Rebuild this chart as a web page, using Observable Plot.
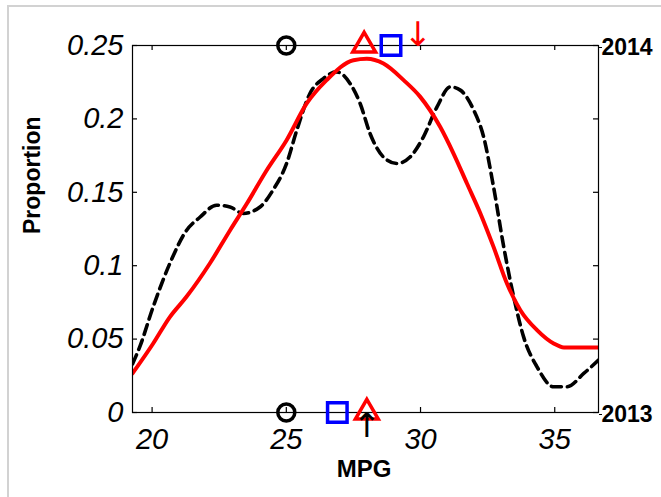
<!DOCTYPE html>
<html><head><meta charset="utf-8">
<script src="https://cdn.jsdelivr.net/npm/d3@7"></script>
<script src="https://cdn.jsdelivr.net/npm/@observablehq/plot@0.6"></script>
<style>
body{margin:0;background:#fff;}
#frame{position:absolute;left:7px;top:5px;width:700px;height:600px;border-left:2px solid #d2d2d2;border-top:2px solid #d2d2d2;}
#chart{position:absolute;left:0;top:0;}
</style></head><body><div id="frame"></div><div id="chart"></div>
<script>
// Dashed black density curve
const dashedMPG  = [19.27,19.54,20.04,20.66,21.28,21.78,22.4,22.9,23.4,24.02,24.5,25.01,25.39,25.88,26.38,26.88,27.38,27.75,28.12,28.62,29.12,29.61,30.11,30.61,31.11,31.48,31.98,32.35,32.72,33.1,33.47,33.84,34.34,34.96,35.46,36.08,36.63];
const dashedProp = [0.033,0.0447,0.072,0.1015,0.124,0.133,0.1412,0.140,0.1356,0.140,0.1514,0.1696,0.1923,0.2173,0.2275,0.232,0.224,0.2105,0.19,0.174,0.1696,0.174,0.1878,0.208,0.2218,0.2196,0.206,0.1878,0.1537,0.1128,0.0788,0.0515,0.0311,0.0175,0.0175,0.0266,0.0357];
// Solid red density curve
const solidMPG  = [19.27,20.04,20.66,21.28,22.15,22.9,23.52,24.27,25.01,25.76,26.5,27.5,28.0,28.62,29.37,29.99,30.73,31.23,31.73,32.23,32.72,33.22,33.72,34.34,34.96,35.34,36.63];
const solidProp = [0.0266,0.047,0.065,0.0788,0.1015,0.124,0.142,0.165,0.1855,0.2105,0.2264,0.24,0.241,0.2377,0.2264,0.215,0.1946,0.1764,0.156,0.1356,0.1128,0.0879,0.0697,0.0561,0.047,0.0443,0.0443];

const xTicks = [20,25,30,35];
const yTicks = [0,0.05,0.1,0.15,0.2,0.25];
const years = ["2013","2014"];
const yearLevel = [0,0.25];

// Summary markers per year
const circleMPG   = [25, 25];
const squareMPG   = [26.9, 28.9];
const triangleMPG = [28.0, 27.9];
const arrowMPG    = [28.0, 29.9];
const arrowColor  = ["black","red"];

const dashed = dashedMPG.map((x,i)=>({x, y: dashedProp[i]}));
const solid = solidMPG.map((x,i)=>({x, y: solidProp[i]}));
const markers = (arr) => arr.map((x,i)=>({x, y: yearLevel[i]}));

const W = 661, H = 497, mL = 132, mR = 63, mT = 45, mB = 85;
const pw = W - mL - mR, ph = H - mT - mB, tk = 5;
const font = "Liberation Sans, Arial, sans-serif";

const chart = Plot.plot({
  width: W, height: H,
  marginLeft: mL, marginRight: mR, marginTop: mT, marginBottom: mB,
  style: {fontFamily: font, background: "transparent", overflow: "visible"},
  x: {domain: [19.27, 36.63]},
  y: {domain: [0, 0.25]},
  marks: [
    Plot.line(dashed, {x:"x", y:"y", stroke:"black", strokeWidth:3.6, strokeDasharray:"10,6", curve:"monotone-x", clip:true}),
    Plot.line(solid, {x:"x", y:"y", stroke:"#ff0000", strokeWidth:4, curve:"monotone-x", clip:true}),
    Plot.frame({stroke:"black", strokeWidth:1.2}),
    // inward ticks
    Plot.tickY(yTicks, {insetRight: pw - tk, stroke:"black", strokeWidth:1.2}),
    Plot.tickY(yTicks, {insetLeft: pw - tk, stroke:"black", strokeWidth:1.2}),
    Plot.tickX(xTicks, {insetTop: ph - tk, stroke:"black", strokeWidth:1.2}),
    Plot.tickX(xTicks, {insetBottom: ph - tk, stroke:"black", strokeWidth:1.2}),
    // tick labels
    Plot.axisY(yTicks, {anchor:"left", tickSize:0, tickPadding:9, fontSize:29, fontStyle:"italic", tickFormat: d => String(d), label:null, fill:"black"}),
    Plot.axisX(xTicks, {anchor:"bottom", tickSize:0, tickPadding:16, fontSize:29, fontStyle:"italic", tickFormat: d => String(d), label:null, fill:"black"}),
    Plot.axisY(yearLevel, {anchor:"right", tickSize:3, tickPadding:0, fontSize:23, fontWeight:"bold", tickFormat: d => years[yearLevel.indexOf(d)], label:null, fill:"black", dy:2}),
    // axis titles
    Plot.text(["Proportion"], {frameAnchor:"left", rotate:-90, dx:-100, dy:5, fontSize:23, fontWeight:"bold", fill:"black"}),
    Plot.text(["MPG"], {frameAnchor:"bottom", dx:-1.5, dy:64, fontSize:24, fontWeight:"bold", fill:"black"}),
    // markers
    Plot.dot(markers(circleMPG), {x:"x", y:"y", symbol:"circle", r:8.5, stroke:"black", strokeWidth:3.5, fill:"none"}),
    Plot.dot(markers(squareMPG), {x:"x", y:"y", symbol:"square", r:11, stroke:"#0000ff", strokeWidth:3.5, fill:"none"}),
    Plot.dot(markers(triangleMPG), {x:"x", y:"y", symbol:"triangle", r:8.5, stroke:"#ff0000", strokeWidth:3.5, fill:"none"}),
    // arrows
    Plot.text([0], {x: arrowMPG[0], y: yearLevel[0], text: ["↑"], fill: arrowColor[0], fontFamily:"DejaVu Sans", fontSize:34, lineAnchor:"top", dy:0}),
    Plot.text([1], {x: arrowMPG[1], y: yearLevel[1], text: ["↓"], fill: arrowColor[1], fontFamily:"DejaVu Sans", fontSize:34, lineAnchor:"bottom", dy:0})
  ]
});
document.getElementById("chart").appendChild(chart);
</script></body></html>
